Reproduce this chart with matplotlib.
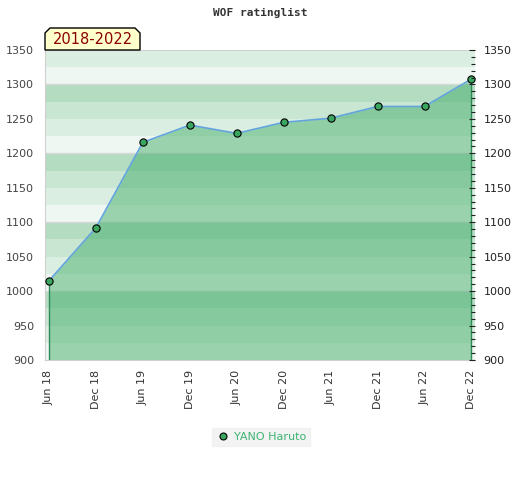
import matplotlib
matplotlib.use("Agg")
import matplotlib.pyplot as plt
from matplotlib.patches import Polygon
from matplotlib.lines import Line2D
from matplotlib.ticker import MultipleLocator

dates = ["Jun 18", "Dec 18", "Jun 19", "Dec 19", "Jun 20", "Dec 20",
         "Jun 21", "Dec 21", "Jun 22", "Dec 22"]
ratings = [1015, 1092, 1216, 1241, 1229, 1245, 1251, 1268, 1268, 1308]
player = "YANO Haruto"
period = "2018-2022"
title = "WOF ratinglist"
y_ticks = [900, 950, 1000, 1050, 1100, 1150, 1200, 1250, 1300, 1350]

W, H = 520, 480
fig = plt.figure(figsize=(W / 100, H / 100), dpi=100)
L, R, T, B = 45, 475, 50, 360
ax = fig.add_axes([L / W, 1 - B / H, (R - L) / W, (B - T) / H])

x = list(range(len(dates)))
ax.set_xlim(-0.085, len(dates) - 1 + 0.075)
ax.set_ylim(900, 1350)

band_colors = {0: "#eef7f1", 25: "#dbeee2", 50: "#c9e6d3", 75: "#b3dcc1"}
for lo in range(900, 1350, 25):
    ax.axhspan(lo, lo + 25, color=band_colors[lo % 100], lw=0, zorder=0)
for g in range(1000, 1350, 100):
    ax.axhline(g, color="#d8d8d8", lw=1, zorder=0.5)

fill_c = (60 / 255, 170 / 255, 100 / 255)
ax.fill_between(x, ratings, 900, color=fill_c, alpha=0.47, lw=0, zorder=1)
ax.vlines([x[0], x[-1]], 900, [ratings[0], ratings[-1]], color="#2e8b57", lw=1, zorder=2)
ax.plot(x, ratings, color="#62a4dc", lw=1.2, zorder=3)
ax.plot(x, ratings, ls="none", marker="o", ms=5.2, mfc="#3aa660", mec="black",
        mew=0.8, zorder=4)

for s in ["left", "top", "bottom"]:
    ax.spines[s].set_color("#d0d0d0")
ax.spines["right"].set_visible(False)

ax.set_xticks(x)
ax.set_xticklabels(dates, rotation=90, fontsize=8, color="#333333")
ax.tick_params(axis="x", length=0, pad=7)
ax.set_yticks(y_ticks)
ax.tick_params(axis="y", length=0, pad=8, labelsize=8, labelcolor="#444444")

ax2 = ax.twinx()
ax2.set_ylim(900, 1350)
ax2.set_yticks(y_ticks)
ax2.yaxis.set_minor_locator(MultipleLocator(10))
ax2.tick_params(axis="y", which="major", direction="in", length=4, width=0.8,
                color="#222222", pad=6, labelsize=8, labelcolor="#222222")
ax2.tick_params(axis="y", which="minor", direction="in", length=3, width=0.8,
                color="#222222")
for s in ax2.spines.values():
    s.set_visible(False)

fig.text(0.5, 1 - 13 / H, title, ha="center", va="center", fontsize=8,
         family="DejaVu Sans Mono", fontweight="bold", color="#333333")

pts = [(45, 50), (45, 33), (50, 28), (135, 28), (140, 33), (140, 50)]
poly = Polygon([(px / W, 1 - py / H) for px, py in pts], closed=True,
               transform=fig.transFigure, facecolor="#ffffcc", edgecolor="black",
               lw=1, zorder=10)
fig.patches.append(poly)
fig.text(92.5 / W, 1 - 40 / H, period, ha="center", va="center", fontsize=10.5,
         color="#8b0000", zorder=11)

handle = Line2D([], [], ls="none", marker="o", ms=5, mfc="#3aa660", mec="black", mew=0.8)
leg = fig.legend([handle], [player], loc="center", bbox_to_anchor=(261 / W, 1 - 437 / H),
                 frameon=True, fontsize=8, handletextpad=0.4, borderpad=0.4,
                 handlelength=1.2, fancybox=False)
leg.get_frame().set_facecolor("#f0f0f0")
leg.get_frame().set_edgecolor("#f0f0f0")
for t in leg.get_texts():
    t.set_color("#3cb371")

fig.savefig("out.png", dpi=100)
